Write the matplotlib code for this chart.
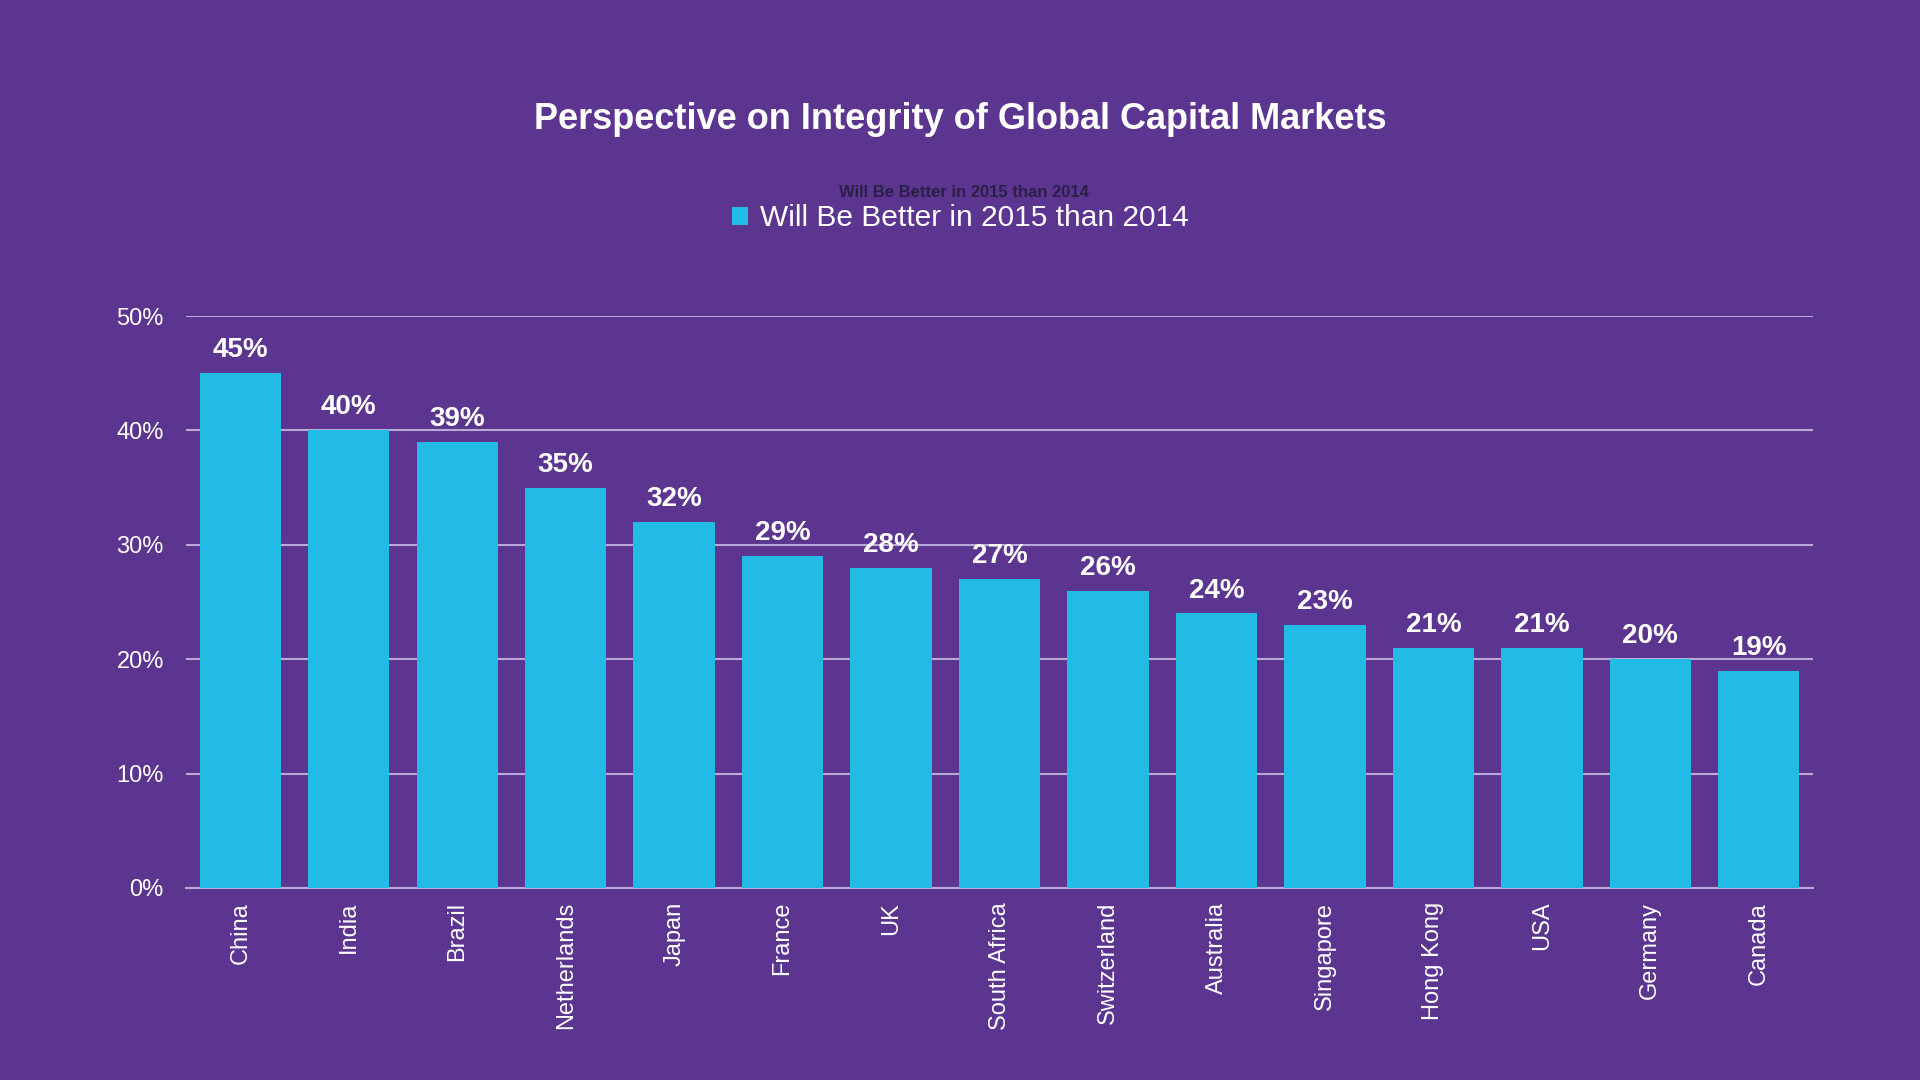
import numpy as np
import matplotlib
matplotlib.use("Agg")
import matplotlib.pyplot as plt
from matplotlib.ticker import FuncFormatter

# Data
countries = ["China", "India", "Brazil", "Netherlands", "Japan", "France", "UK",
             "South Africa", "Switzerland", "Australia", "Singapore", "Hong Kong",
             "USA", "Germany", "Canada"]
better_2015 = [45, 40, 39, 35, 32, 29, 28, 27, 26, 24, 23, 21, 21, 20, 19]
series_name = "Will Be Better in 2015 than 2014"
title = "Perspective on Integrity of Global Capital Markets"

bg = "#5b358f"
bar_color = "#21bbe5"
grid_color = "#b9a9d6"

plt.rcParams["font.family"] = ["Liberation Sans", "DejaVu Sans"]

fig = plt.figure(figsize=(19.2, 10.8), dpi=100, facecolor=bg)
ax = fig.add_axes([0.0969, 0.1778, 0.8474, 0.5296], facecolor=bg)

x = np.arange(len(countries))
values = np.array(better_2015) / 100
bars = ax.bar(x, values, width=0.75, color=bar_color, label=series_name, zorder=3)

# Value labels above each bar
for xi, v in zip(x, better_2015):
    ax.annotate(f"{v}%", (xi, v / 100), xytext=(0, 16.5), textcoords="offset points",
                ha="center", va="center", color="white", fontsize=20,
                fontweight="bold", zorder=4)

ax.set_xlim(-0.5, len(countries) - 0.5)
ax.set_ylim(0, 0.5)
ax.set_yticks(np.arange(0, 0.51, 0.1))
ax.yaxis.set_major_formatter(FuncFormatter(lambda v, p: f"{v * 100:.0f}%"))
ax.set_xticks(x)
ax.set_xticklabels(countries, rotation=90, va="top", ha="center")
ax.tick_params(axis="y", length=0, pad=16, labelsize=17, labelcolor="white")
ax.tick_params(axis="x", length=0, pad=10, labelsize=17, labelcolor="white")

ax.grid(axis="y", color=grid_color, linewidth=1.5, zorder=1)
for side in ["top", "right", "left"]:
    ax.spines[side].set_visible(False)
ax.spines["bottom"].set_color(grid_color)
ax.spines["bottom"].set_linewidth(1.5)
ax.spines["bottom"].set_zorder(2)

fig.text(0.5, 0.889, title, ha="center", va="center", color="white",
         fontsize=26, fontweight="bold")

fig.legend(handles=[bars], labels=[series_name], loc="center",
           bbox_to_anchor=(0.5, 0.798), frameon=False, fontsize=21.5,
           labelcolor="white", handlelength=0.55, handleheight=0.55,
           handletextpad=0.4)

# faint duplicate of the legend text seen in the original
fig.text(0.502, 0.822, series_name, ha="center", va="center", color="#2a1f45",
         fontsize=12, fontweight="bold", zorder=0)

fig.savefig("out.png", dpi=100, facecolor=bg)
